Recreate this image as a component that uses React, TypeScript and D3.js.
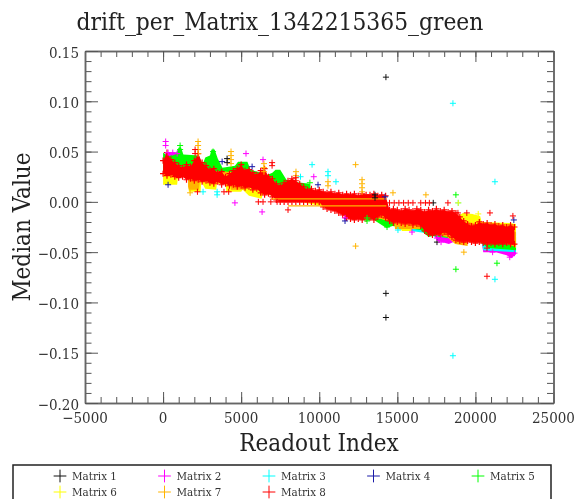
import { useEffect, useRef } from "react";
import * as d3 from "d3";

const width = 579;
const height = 499;
const margin = { top: 51, right: 25.5, bottom: 96, left: 85 };

const matrixNames = ["Matrix 1", "Matrix 2", "Matrix 3", "Matrix 4", "Matrix 5", "Matrix 6", "Matrix 7", "Matrix 8"];
const matrixColors = ["#111111", "#ff00ff", "#00ffff", "#1a1aa8", "#00ff00", "#ffff00", "#ffb400", "#ff0000"];

const xTicks = [-5000, 0, 5000, 10000, 15000, 20000, 25000];
const yTicks = [-0.2, -0.15, -0.1, -0.05, 0, 0.05, 0.1, 0.15];

// dense part of each matrix: [index, low, high]
const band2 = [[0, 0.03, 0.045], [200, 0.03, 0.049], [900, 0.03, 0.049], [1000, 0.03, 0.035], [5000, 0.02, 0.03], [9000, 0.008, 0.012], [14500, -0.018, -0.012], [15500, -0.025, -0.02], [16900, -0.026, -0.02], [17000, -0.032, -0.02], [17300, -0.033, -0.02], [17600, -0.039, -0.025], [18300, -0.042, -0.03], [18600, -0.04, -0.03], [20400, -0.04, -0.03], [20500, -0.05, -0.035], [21300, -0.05, -0.035], [22000, -0.053, -0.035], [22300, -0.056, -0.035], [22600, -0.052, -0.035]];
const band3 = [[15000, -0.027, -0.02], [16800, -0.031, -0.02], [17200, -0.034, -0.02], [20400, -0.04, -0.03], [20500, -0.048, -0.03], [22600, -0.05, -0.03]];
const band5 = [[0, 0.03, 0.049], [300, 0.03, 0.045], [500, 0.03, 0.046], [800, 0.03, 0.047], [1000, 0.03, 0.054], [1150, 0.03, 0.054], [1300, 0.03, 0.047], [2300, 0.03, 0.046], [2500, 0.03, 0.036], [2700, 0.03, 0.044], [3000, 0.03, 0.046], [3100, 0.03, 0.052], [3300, 0.03, 0.052], [3500, 0.03, 0.043], [3800, 0.025, 0.034], [4600, 0.025, 0.036], [4800, 0.025, 0.04], [5400, 0.025, 0.04], [5600, 0.02, 0.032], [6700, 0.015, 0.027], [7000, 0.015, 0.029], [7200, 0.015, 0.032], [7500, 0.015, 0.032], [7900, 0.015, 0.022], [8300, 0.01, 0.02], [9400, 0.004, 0.018], [9500, 0, 0.01], [11900, -0.01, 0], [12000, -0.012, 0], [13000, -0.015, -0.005], [13100, -0.019, -0.005], [13400, -0.017, -0.005], [14000, -0.023, -0.005], [14300, -0.026, -0.01], [14700, -0.024, -0.01], [16500, -0.028, -0.015], [17000, -0.035, -0.015], [17300, -0.034, -0.02], [20300, -0.04, -0.02], [20800, -0.046, -0.03], [22600, -0.048, -0.03]];
const band6 = [[0, 0.017, 0.03], [900, 0.017, 0.03], [950, 0.025, 0.03], [1600, 0.025, 0.03], [1650, 0.01, 0.03], [2400, 0.01, 0.03], [2450, 0.02, 0.03], [2700, 0.013, 0.03], [3400, 0.012, 0.03], [3450, 0.018, 0.03], [4000, 0.018, 0.03], [4050, 0.01, 0.03], [5000, 0.01, 0.02], [5100, 0.012, 0.02], [5500, 0.006, 0.02], [6300, 0.003, 0.015], [6400, 0.008, 0.015], [14900, -0.02, -0.01], [15300, -0.029, -0.015], [15900, -0.029, -0.015], [16000, -0.02, -0.015], [18000, -0.033, -0.015], [18800, -0.04, -0.015], [19200, -0.04, -0.011], [19800, -0.04, -0.012], [20300, -0.04, -0.014], [20400, -0.04, -0.02], [22200, -0.04, -0.021], [22600, -0.046, -0.022]];
const band7 = [[1600, 0.015, 0.03], [1650, 0.012, 0.03], [2300, 0.012, 0.03], [2350, 0.02, 0.03], [4300, 0.02, 0.03], [4350, 0.012, 0.03], [5200, 0.012, 0.02], [5250, 0.015, 0.02], [12000, -0.01, 0], [14800, -0.02, -0.01], [14850, -0.027, -0.015], [16500, -0.027, -0.015], [16550, -0.02, -0.015], [17500, -0.033, -0.015], [18200, -0.035, -0.015], [18700, -0.042, -0.02], [19500, -0.044, -0.02], [19550, -0.03, -0.02], [22600, -0.045, -0.03]];

// Matrix 8 covers the others: marker rows along its upper and lower edge, one reading per 250 readouts
const edgeStep = 250;
const red_top = [0.041, 0.049, 0.042, 0.039, 0.036, 0.034, 0.037, 0.035, 0.041, 0.048, 0.039, 0.036, 0.032, 0.033, 0.029, 0.03, 0.025, 0.028, 0.031, 0.033, 0.037, 0.031, 0.032, 0.029, 0.027, 0.031, 0.033, 0.025, 0.023, 0.018, 0.016, 0.019, 0.021, 0.023, 0.021, 0.018, 0.015, 0.012, 0.013, 0.011, 0.012, 0.01, 0.009, 0.01, 0.008, 0.009, 0.007, 0.008, 0.007, 0.008, 0.006, 0.008, 0.007, 0.007, 0.008, 0.006, 0.007, 0.006, -0.008, -0.007, -0.008, -0.009, -0.007, -0.008, -0.009, -0.007, -0.008, -0.01, -0.008, -0.009, -0.007, -0.009, -0.008, -0.01, -0.009, -0.011, -0.015, -0.019, -0.022, -0.024, -0.023, -0.02, -0.022, -0.021, -0.023, -0.022, -0.024, -0.023, -0.025, -0.023, -0.025];
const red_bottom = [0.028, 0.026, 0.027, 0.025, 0.024, 0.025, 0.022, 0.023, 0.021, 0.022, 0.02, 0.021, 0.019, 0.018, 0.02, 0.017, 0.018, 0.016, 0.017, 0.015, 0.016, 0.014, 0.015, 0.012, 0.013, 0.009, 0.007, 0.008, 0.005, 0.002, 0, 0, 0, 0, 0, 0, 0, 0, 0, 0, 0, -0.005, -0.007, -0.008, -0.009, -0.011, -0.013, -0.016, -0.017, -0.018, -0.017, -0.018, -0.017, -0.016, -0.018, -0.015, -0.013, -0.016, -0.019, -0.021, -0.02, -0.021, -0.022, -0.021, -0.023, -0.022, -0.024, -0.029, -0.032, -0.033, -0.032, -0.033, -0.03, -0.032, -0.035, -0.038, -0.039, -0.04, -0.039, -0.04, -0.041, -0.04, -0.041, -0.042, -0.041, -0.042, -0.041, -0.042, -0.041, -0.042, -0.042];

// thin orange rows that show through the red: [from, to, value]
const stripes7 = [[6900, 14300, 0.003], [8000, 14300, -0.004]];

// single readings: [index, value]
const points1 = [[14270, 0.124], [14270, -0.091], [14270, -0.115], [4100, 0.043], [4100, 0.039], [13570, 0.007], [13570, 0.004], [17540, -0.04], [17300, -0.001]];
const points2 = [[165, 0.06], [165, 0.056], [320, 0.049], [620, 0.049], [900, 0.048], [4600, -0.001], [5310, 0.048], [6340, -0.01], [6400, 0.042], [9650, 0.025], [11650, -0.016], [15940, -0.03], [17540, -0.036], [17800, -0.036], [17800, -0.04], [22200, -0.055], [22500, -0.051], [21100, -0.05]];
const points3 = [[18560, 0.098], [21250, 0.02], [21250, -0.077], [18560, -0.153], [9540, 0.037], [2560, 0.01], [3460, 0.01], [3460, 0.007], [10560, 0.03], [10560, 0.026], [11070, 0.02], [8800, 0.025], [18900, -0.001], [15040, -0.028]];
const points4 = [[320, 0.017], [3780, 0.04], [5700, 0.035], [14210, 0.005], [9920, 0.017], [22460, -0.018], [11650, -0.019]];
const points5 = [[18750, 0.007], [18750, -0.067], [21380, -0.061], [1090, 0.056], [1090, 0.052], [3200, 0.05], [13060, -0.016], [13060, -0.019], [14340, -0.025], [9400, 0.019]];
const points6 = [[18900, -0.001], [19780, -0.015], [20180, -0.012]];
const points7 = [[12330, 0.037], [12330, -0.044], [19260, -0.05], [16830, 0.007], [2240, 0.06], [2240, 0.056], [2240, 0.052], [2240, 0.048], [4350, 0.05], [4350, 0.046], [4350, 0.042], [4350, 0.038], [6460, 0.038], [6460, 0.034], [6460, 0.03], [8510, 0.03], [8510, 0.026], [10560, 0.02], [10560, 0.016], [12740, 0.022], [12740, 0.018], [12740, 0.014], [12740, 0.01], [14720, 0.009], [1730, 0.009]];
const points8 = [[20740, -0.074], [18240, -0.001], [6980, 0.039], [6980, 0.036], [8000, -0.008], [8500, 0.024], [6100, 0], [6400, 0], [6900, 0], [7300, 0], [14500, -0.001], [14800, -0.001], [15100, -0.001], [15400, -0.001], [15700, -0.001], [16000, -0.001], [16500, -0.001], [16800, -0.001], [17050, -0.001], [20930, -0.011], [19450, -0.011], [18880, -0.011], [18880, -0.015], [18880, -0.019], [22400, -0.014], [20740, -0.046], [2050, 0.048], [2050, 0.052], [2200, 0.01], [3900, 0.01], [4200, 0.01]];

const bands = [null, band2, band3, null, band5, band6, band7, null];
const points = [points1, points2, points3, points4, points5, points6, points7, points8];

const serif = "'DejaVu Serif', serif";

export default function App() {
  const ref = useRef<SVGSVGElement>(null);

  useEffect(() => {
    const svg = d3.select(ref.current);
    svg.selectAll("*").remove();

    const x = d3.scaleLinear().domain([-5000, 25000]).range([margin.left, width - margin.right]);
    const y = d3.scaleLinear().domain([-0.2, 0.15]).range([height - margin.bottom, margin.top]);

    const defs = svg.append("defs");
    defs.append("filter").attr("id", "soft").append("feGaussianBlur").attr("stdDeviation", 0.5);

    const marks = svg.append("g").attr("filter", "url(#soft)");
    const plus = d3.symbol(d3.symbolPlus, 14);

    const area = d3.area<number[]>()
      .x(d => x(d[0]))
      .y0(d => y(d[1]))
      .y1(d => y(d[2]));

    bands.forEach((band, i) => {
      if (!band) return;
      marks.append("path").attr("d", area(band)).attr("fill", matrixColors[i]);
    });

    // red envelope: top edge then bottom edge reversed
    const topEdge = red_top.map((v, i) => [i * edgeStep, v]);
    const bottomEdge = red_bottom.map((v, i) => [i * edgeStep, v]);
    const outline = d3.line<number[]>().x(d => x(d[0])).y(d => y(d[1]));
    marks.append("path")
      .attr("d", outline([...topEdge, ...[...bottomEdge].reverse()]) + "Z")
      .attr("fill", matrixColors[7]);
    marks.selectAll(".edge")
      .data([...topEdge, ...bottomEdge])
      .enter().append("path")
      .attr("transform", d => `translate(${x(d[0])},${y(d[1])})`)
      .attr("d", plus())
      .attr("fill", "none")
      .attr("stroke", matrixColors[7])
      .attr("stroke-width", 1.2);

    stripes7.forEach(s => {
      marks.append("line")
        .attr("x1", x(s[0])).attr("x2", x(s[1]))
        .attr("y1", y(s[2])).attr("y2", y(s[2]))
        .attr("stroke", matrixColors[6])
        .attr("stroke-width", 1.2);
    });

    points.forEach((list, i) => {
      marks.append("g").selectAll("path")
        .data(list)
        .enter().append("path")
        .attr("transform", d => `translate(${x(d[0])},${y(d[1])})`)
        .attr("d", plus())
        .attr("fill", "none")
        .attr("stroke", matrixColors[i])
        .attr("stroke-width", 1);
    });

    // axes, mirrored on all four sides
    const axisColor = "#666";
    const drawAxis = (axis: any, tx: number, ty: number) => {
      const g = svg.append("g").attr("transform", `translate(${tx},${ty})`).call(axis);
      g.selectAll("path").attr("stroke", axisColor).attr("stroke-width", 1.5);
      g.selectAll("line").attr("stroke", "#555");
      g.selectAll("text").remove();
    };
    const bottom = height - margin.bottom;
    const right = width - margin.right;
    const xMinor = d3.range(-5000, 25001, 1000);
    const yMinor = d3.range(-20, 16).map(d => d / 100);

    drawAxis(d3.axisBottom(x).tickValues(xMinor).tickSize(-6).tickSizeOuter(0), 0, bottom);
    drawAxis(d3.axisBottom(x).tickValues(xTicks).tickSize(-11).tickSizeOuter(0), 0, bottom);
    drawAxis(d3.axisTop(x).tickValues(xMinor).tickSize(-6).tickSizeOuter(0), 0, margin.top);
    drawAxis(d3.axisTop(x).tickValues(xTicks).tickSize(-11).tickSizeOuter(0), 0, margin.top);
    drawAxis(d3.axisLeft(y).tickValues(yMinor).tickSize(-6.5).tickSizeOuter(0), margin.left, 0);
    drawAxis(d3.axisLeft(y).tickValues(yTicks).tickSize(-13).tickSizeOuter(0), margin.left, 0);
    drawAxis(d3.axisRight(y).tickValues(yMinor).tickSize(-6.5).tickSizeOuter(0), right, 0);
    drawAxis(d3.axisRight(y).tickValues(yTicks).tickSize(-13).tickSizeOuter(0), right, 0);

    const text = svg.append("g")
      .attr("font-family", serif)
      .style("font-stretch", "condensed")
      .attr("fill", "#333");

    text.selectAll(".xt")
      .data(xTicks)
      .enter().append("text")
      .attr("x", d => x(d))
      .attr("y", bottom + 20)
      .attr("text-anchor", "middle")
      .attr("font-size", 15)
      .text(d => d3.format("d")(d));

    text.selectAll(".yt")
      .data(yTicks)
      .enter().append("text")
      .attr("x", margin.left - 6)
      .attr("y", d => y(d) + 6.5)
      .attr("text-anchor", "end")
      .attr("font-size", 15)
      .text(d => d3.format(".2f")(d));

    text.append("text")
      .attr("x", 280).attr("y", 30)
      .attr("text-anchor", "middle")
      .attr("font-size", 24.3)
      .attr("fill", "#222")
      .text("drift_per_Matrix_1342215365_green");

    text.append("text")
      .attr("x", 319).attr("y", 451)
      .attr("text-anchor", "middle")
      .attr("font-size", 24)
      .attr("fill", "#222")
      .text("Readout Index");

    text.append("text")
      .attr("transform", "translate(30,227) rotate(-90)")
      .attr("text-anchor", "middle")
      .attr("font-size", 24)
      .attr("fill", "#222")
      .text("Median Value");

    // legend, box runs off the bottom of the page
    svg.append("rect")
      .attr("x", 13).attr("y", 465)
      .attr("width", 538).attr("height", 60)
      .attr("fill", "none")
      .attr("stroke", "#222")
      .attr("stroke-width", 1.5);

    const legendX = d3.scalePoint<number>().domain([0, 1, 2, 3, 4]).range([60, 478]);
    const legendY = d3.scalePoint<number>().domain([0, 1]).range([476, 492]);
    matrixNames.forEach((name, i) => {
      const lx = legendX(i % 5) as number;
      const ly = legendY(Math.floor(i / 5)) as number;
      const row = svg.append("g").attr("transform", `translate(${lx},${ly})`);
      row.append("path")
        .attr("d", d3.symbol(d3.symbolPlus, 55)())
        .attr("fill", "none")
        .attr("stroke", matrixColors[i]);
      row.append("text")
        .attr("x", 12).attr("y", 4)
        .attr("font-family", serif)
        .style("font-stretch", "condensed")
        .attr("font-size", 11.5)
        .attr("fill", "#333")
        .text(name);
    });
  }, []);

  return <svg ref={ref} width={width} height={height} style={{ position: "fixed", left: 0, top: 0, background: "#fff" }} />;
}
